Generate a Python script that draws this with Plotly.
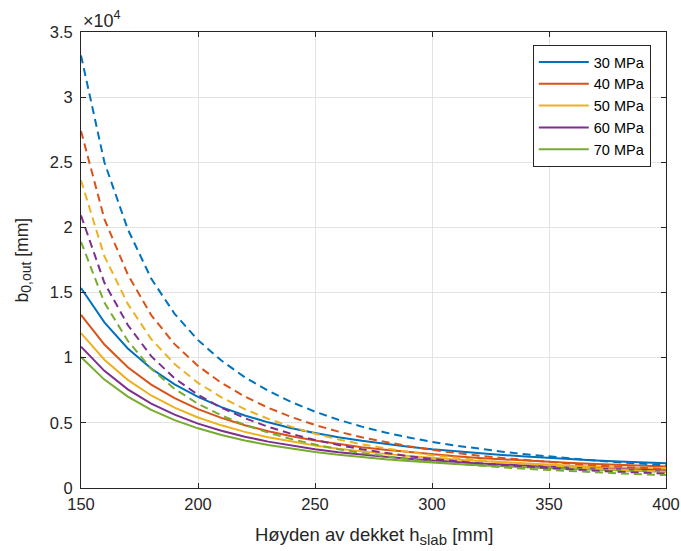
import plotly.graph_objects as go

h_slab = [150, 160, 170, 180, 190, 200, 210, 220, 230, 240, 250, 260, 270,
          280, 290, 300, 310, 320, 330, 340, 350, 360, 370, 380, 390, 400]

labels = ["30 MPa", "40 MPa", "50 MPa", "60 MPa", "70 MPa"]
colors = ["#0072BD", "#D95319", "#EDB120", "#7E2F8E", "#77AC30"]

# solid curves
solid_30 = [15350, 12710, 10710, 9170, 7960, 6990, 6210, 5570, 5040, 4590, 4220, 3890, 3620,
            3380, 3170, 2980, 2820, 2670, 2540, 2420, 2310, 2210, 2120, 2040, 1970, 1900]
solid_40 = [13290, 11010, 9270, 7940, 6890, 6050, 5380, 4820, 4360, 3970, 3650, 3370, 3130,
            2930, 2750, 2580, 2440, 2310, 2200, 2100, 2000, 1910, 1840, 1770, 1710, 1650]
solid_50 = [11890, 9850, 8300, 7100, 6170, 5410, 4810, 4310, 3900, 3560, 3270, 3010, 2800,
            2620, 2460, 2310, 2180, 2070, 1970, 1870, 1790, 1710, 1640, 1580, 1530, 1470]
solid_60 = [10850, 8990, 7570, 6480, 5630, 4940, 4390, 3940, 3560, 3250, 2980, 2750, 2560,
            2390, 2240, 2110, 1990, 1890, 1800, 1710, 1630, 1560, 1500, 1440, 1390, 1340]
solid_70 = [10050, 8320, 7010, 6000, 5210, 4580, 4070, 3650, 3300, 3010, 2760, 2550, 2370,
            2210, 2080, 1950, 1850, 1750, 1660, 1580, 1510, 1450, 1390, 1340, 1290, 1240]

# dashed curves
dashed_30 = [33200, 25000, 19860, 16070, 13370, 11350, 9780, 8500, 7460, 6590, 5860, 5240, 4710,
             4260, 3880, 3540, 3260, 3010, 2790, 2590, 2410, 2250, 2100, 1970, 1850, 1740]
dashed_40 = [27410, 20640, 16390, 13270, 11040, 9370, 8070, 7020, 6160, 5440, 4840, 4330, 3890,
             3520, 3200, 2920, 2690, 2480, 2300, 2140, 1990, 1860, 1730, 1630, 1530, 1440]
dashed_50 = [23620, 17790, 14130, 11430, 9510, 8070, 6960, 6050, 5310, 4690, 4170, 3730, 3350,
             3030, 2760, 2520, 2320, 2140, 1980, 1840, 1710, 1600, 1490, 1400, 1320, 1240]
dashed_60 = [20920, 15750, 12510, 10120, 8420, 7150, 6160, 5360, 4700, 4150, 3690, 3300, 2970,
             2680, 2440, 2230, 2050, 1900, 1760, 1630, 1520, 1420, 1320, 1240, 1170, 1100]
dashed_70 = [18900, 14230, 11300, 9150, 7610, 6460, 5570, 4840, 4250, 3750, 3340, 2980, 2680,
             2420, 2210, 2010, 1860, 1710, 1590, 1470, 1370, 1280, 1200, 1120, 1050, 990]

solids = [solid_30, solid_40, solid_50, solid_60, solid_70]
dasheds = [dashed_30, dashed_40, dashed_50, dashed_60, dashed_70]

y_tickvals = [0, 5000, 10000, 15000, 20000, 25000, 30000, 35000]
y_ticktext = ["0", "0.5", "1", "1.5", "2", "2.5", "3", "3.5"]
x_tickvals = [150, 200, 250, 300, 350, 400]

FONT = "Liberation Sans, Arial, Helvetica, sans-serif"
TXT = "#262626"

fig = go.Figure()
for lab, col, ys in zip(labels, colors, solids):
    fig.add_trace(go.Scatter(x=h_slab, y=ys, mode="lines", name=lab,
                             line=dict(color=col, width=2)))
for lab, col, ys in zip(labels, colors, dasheds):
    fig.add_trace(go.Scatter(x=h_slab, y=ys, mode="lines", name=lab, showlegend=False,
                             line=dict(color=col, width=2, dash="8px,5px")))

axis_common = dict(
    showline=True, linecolor=TXT, linewidth=1, mirror="ticks",
    ticks="inside", ticklen=5, tickcolor=TXT,
    showgrid=True, gridcolor="#e3e3e3", gridwidth=1, zeroline=False,
    tickfont=dict(family=FONT, size=16.5, color=TXT),
    automargin=False,
)

fig.update_layout(
    width=681, height=551,
    margin=dict(l=81, r=15, t=32, b=63),
    paper_bgcolor="white", plot_bgcolor="white",
    font=dict(family=FONT, size=16, color=TXT),
    xaxis=dict(range=[150, 400], tickvals=x_tickvals, ticklabelstandoff=1, **axis_common),
    yaxis=dict(range=[0, 35000], tickvals=y_tickvals, ticktext=y_ticktext,
               ticklabelstandoff=4, **axis_common),
    legend=dict(x=0.974, y=0.9715, xanchor="right", yanchor="top",
                bgcolor="white", bordercolor=TXT, borderwidth=1,
                font=dict(family=FONT, size=14.5, color="#000000"),
                itemwidth=50, tracegroupgap=0),
    showlegend=True,
)

# axis titles
fig.add_annotation(xref="paper", yref="paper", x=0.5, y=-0.105, xanchor="center", yanchor="middle",
                   text="Høyden av dekket h<sub><span style='font-size:15px'>slab</span></sub> [mm]",
                   showarrow=False, font=dict(family=FONT, size=18.5, color=TXT))
fig.add_annotation(xref="paper", yref="paper", x=-0.1, y=0.5, xanchor="center", yanchor="middle",
                   text="b<sub><span style='font-size:14px'>0,out</span></sub> [mm]",
                   showarrow=False, textangle=-90,
                   font=dict(family=FONT, size=17.5, color=TXT))
# exponent label
fig.add_annotation(xref="paper", yref="paper", x=0.0, y=1.0, xanchor="left", yanchor="bottom",
                   text="×10<sup>4</sup>", showarrow=False,
                   font=dict(family=FONT, size=18, color=TXT), yshift=-1)

fig.write_html("out.html")
